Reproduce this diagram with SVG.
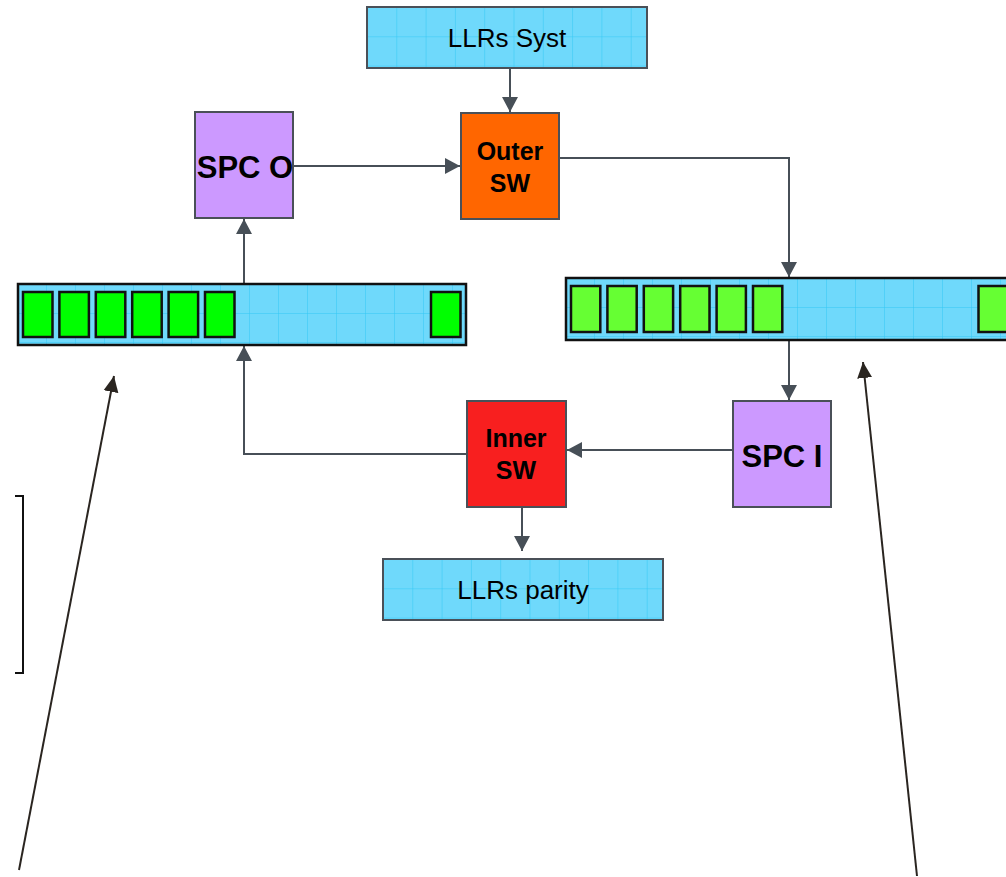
<svg xmlns="http://www.w3.org/2000/svg" width="1006" height="877" viewBox="0 0 1006 877">
  <defs>
    <style>
      .buf { stroke: #4a5058; stroke-width: 2; }
      .arr { stroke: #111; stroke-width: 2.5; }
      .cellA { fill: #00ff00; stroke: #111; stroke-width: 2.5; }
      .cellB { fill: #66ff33; stroke: #111; stroke-width: 2.5; }
      .blk { stroke: #4a5058; stroke-width: 2; }
      .lbl { font-family: "Liberation Sans", Arial, sans-serif; fill: #000; text-anchor: middle; }
      .reg { font-size: 26px; }
      .bold { font-size: 25px; font-weight: bold; }
      .big { font-size: 31px; font-weight: bold; }
      .conn { fill: none; stroke: #474f57; stroke-width: 2; }
      .ptr { fill: none; stroke: #2a2520; stroke-width: 2; }
    </style>
    <pattern id="gSyst" patternUnits="userSpaceOnUse" x="367" y="7" width="29.3" height="29.3">
      <rect width="29.3" height="29.3" fill="#6fd9fb"/>
      <path d="M0,0V29.3M0,0H29.3" stroke="#33c8f5" stroke-width="1"/>
    </pattern>
    <pattern id="gPar" patternUnits="userSpaceOnUse" x="383" y="559" width="29.3" height="29.3">
      <rect width="29.3" height="29.3" fill="#6fd9fb"/>
      <path d="M0,0V29.3M0,0H29.3" stroke="#33c8f5" stroke-width="1"/>
    </pattern>
    <pattern id="gArrL" patternUnits="userSpaceOnUse" x="17" y="284" width="29" height="29">
      <rect width="29" height="29" fill="#6fd9fb"/>
      <path d="M0,0V29M0,0H29" stroke="#33c8f5" stroke-width="1"/>
    </pattern>
    <pattern id="gArrR" patternUnits="userSpaceOnUse" x="565" y="278" width="29" height="29">
      <rect width="29" height="29" fill="#6fd9fb"/>
      <path d="M0,0V29M0,0H29" stroke="#33c8f5" stroke-width="1"/>
    </pattern>
    <marker id="ah" markerUnits="userSpaceOnUse" markerWidth="16" markerHeight="16" viewBox="0 0 16 16" refX="15" refY="8" orient="auto">
      <path d="M0,0L15,8L0,16Z" fill="#474f57"/>
    </marker>
    <marker id="ahk" markerUnits="userSpaceOnUse" markerWidth="16" markerHeight="16" viewBox="0 0 16 16" refX="16" refY="8" orient="auto">
      <path d="M0,0.5L16,8L0,15.5Z" fill="#2a2520"/>
    </marker>
  </defs>

  <rect width="1006" height="877" fill="#fff"/>

  <!-- connectors -->
  <g id="connectors">
    <path class="conn" d="M510,69V112" marker-end="url(#ah)"/>
    <path class="conn" d="M293,166H460" marker-end="url(#ah)"/>
    <path class="conn" d="M559,158H789V277" marker-end="url(#ah)"/>
    <path class="conn" d="M244,283V219" marker-end="url(#ah)"/>
    <path class="conn" d="M789,340V400" marker-end="url(#ah)"/>
    <path class="conn" d="M733,450H567" marker-end="url(#ah)"/>
    <path class="conn" d="M467,454H244V346" marker-end="url(#ah)"/>
    <path class="conn" d="M522,507V551" marker-end="url(#ah)"/>
    <path class="ptr" d="M19,870L114,376" marker-end="url(#ahk)"/>
    <path class="ptr" d="M917,876L863,362" marker-end="url(#ahk)"/>
  </g>

  <!-- bracket -->
  <path id="bracket" d="M15,496H23V673H15" fill="none" stroke="#111" stroke-width="2"/>

  <g id="llrs-syst">
    <rect class="buf" x="367" y="7" width="280" height="61" fill="url(#gSyst)"/>
    <text class="lbl reg" x="507" y="47">LLRs Syst</text>
  </g>

  <g id="outer-sw">
    <rect class="blk" x="461" y="113" width="98" height="106" fill="#ff6600"/>
    <text class="lbl bold" x="510" y="160">Outer</text>
    <text class="lbl bold" x="510" y="192">SW</text>
  </g>

  <g id="spc-o">
    <rect class="blk" x="195" y="112" width="98" height="106" fill="#cc99ff"/>
    <text class="lbl big" x="245" y="178">SPC O</text>
  </g>

  <g id="array-left">
    <rect class="arr" x="18" y="284" width="448" height="61" fill="url(#gArrL)"/>
    <rect class="cellA" x="23" y="292" width="29.5" height="45"/>
    <rect class="cellA" x="59.4" y="292" width="29.5" height="45"/>
    <rect class="cellA" x="95.8" y="292" width="29.5" height="45"/>
    <rect class="cellA" x="132.2" y="292" width="29.5" height="45"/>
    <rect class="cellA" x="168.6" y="292" width="29.5" height="45"/>
    <rect class="cellA" x="205" y="292" width="29.5" height="45"/>
    <rect class="cellA" x="431" y="292" width="29.5" height="45"/>
  </g>

  <g id="array-right">
    <rect class="arr" x="566" y="278" width="448" height="62" fill="url(#gArrR)"/>
    <rect class="cellB" x="571" y="286" width="29.3" height="46"/>
    <rect class="cellB" x="607.4" y="286" width="29.3" height="46"/>
    <rect class="cellB" x="643.8" y="286" width="29.3" height="46"/>
    <rect class="cellB" x="680.2" y="286" width="29.3" height="46"/>
    <rect class="cellB" x="716.6" y="286" width="29.3" height="46"/>
    <rect class="cellB" x="753" y="286" width="29.3" height="46"/>
    <rect class="cellB" x="978.5" y="286" width="29.3" height="46"/>
  </g>

  <g id="spc-i">
    <rect class="blk" x="733" y="401" width="98" height="106" fill="#cc99ff"/>
    <text class="lbl big" x="782" y="467">SPC I</text>
  </g>

  <g id="inner-sw">
    <rect class="blk" x="467" y="401" width="99" height="106" fill="#f81f1f"/>
    <text class="lbl bold" x="516" y="447">Inner</text>
    <text class="lbl bold" x="516" y="479">SW</text>
  </g>

  <g id="llrs-parity">
    <rect class="buf" x="383" y="559" width="280" height="61" fill="url(#gPar)"/>
    <text class="lbl reg" x="523" y="599">LLRs parity</text>
  </g>
</svg>
